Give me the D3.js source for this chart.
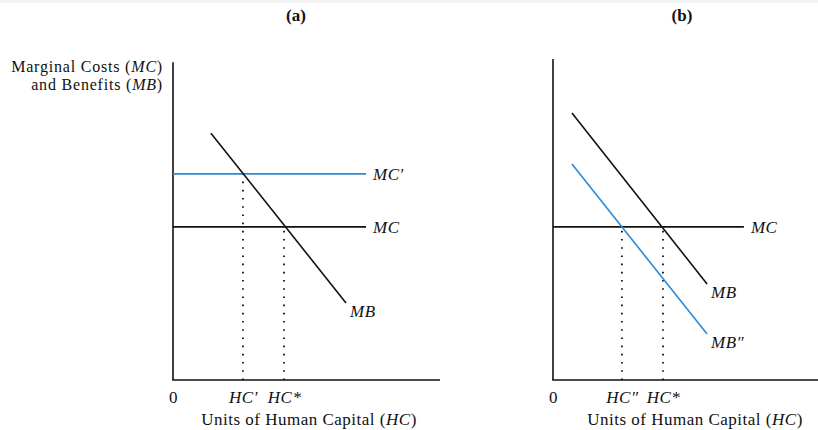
<!DOCTYPE html>
<html>
<head>
<meta charset="utf-8">
<script src="https://cdn.jsdelivr.net/npm/d3@7/dist/d3.min.js"></script>
<style>
  html, body { margin: 0; padding: 0; background: #fff; }
  svg { display: block; }
  text { font-family: "Liberation Serif", "DejaVu Serif", serif; fill: #111; }
</style>
</head>
<body>
<svg id="chart" width="818" height="430"></svg>
<script>
// ---------------- data ----------------
const panelTitles = ["(a)", "(b)"];
const yAxisTitle = ["Marginal Costs (", "MC", ")", "and Benefits (", "MB", ")"];
const xAxisTitle = ["Units of Human Capital (", "HC", ")"];

// panel (a)
const xTickValuesA = [0, 26.2, 41.6];
const xTickLabelsA = ["0", "HC′", "HC*"];
const lineNamesA = ["MC′", "MC", "MB"];
const lineXA = [[0, 72.3], [0, 72.3], [14.2, 64.8]];
const lineYA = [[64.2, 64.2], [47.7, 47.7], [76.9, 24.0]];
const dropXA = [26.2, 41.6];
const dropYA = [64.2, 47.7];
const yAxisTopA = 99;

// panel (b)
const xTickValuesB = [0, 25.8, 41.2];
const xTickLabelsB = ["0", "HC″", "HC*"];
const lineNamesB = ["MC", "MB", "MB″"];
const lineXB = [[0, 71.5], [7.1, 57.7], [7.1, 57.7]];
const lineYB = [[47.7, 47.7], [83.2, 29.9], [67.3, 14.3]];
const dropXB = [25.8, 41.2];
const dropYB = [47.7, 47.7];
const yAxisTopB = 100;

// ---------------- styles / layout ----------------
const BLUE = "#2a8ad8";
const BLACK = "#111";
const colorsA = [BLUE, BLACK, BLACK];
const colorsB = [BLACK, BLACK, BLUE];
const FS = "17px";
const LS = "0.5px";

const svg = d3.select("#chart");
svg.append("rect").attr("x", 0).attr("y", 0).attr("width", 818).attr("height", 3).attr("fill", "#f4f4f4");

const y = d3.scaleLinear().domain([0, 100]).range([380, 59]);

function drawPanel(opt) {
  const x = d3.scaleLinear().domain([0, 100]).range([opt.x0, opt.x0 + 267]);
  const g = svg.append("g");

  // title
  g.append("text")
    .attr("x", opt.titleX).attr("y", 21)
    .attr("text-anchor", "middle")
    .style("font-weight", "bold").style("font-size", "17px")
    .text(opt.title);

  // y axis line
  g.append("line")
    .attr("x1", x(0)).attr("x2", x(0))
    .attr("y1", y(0)).attr("y2", y(opt.yTop))
    .attr("stroke", BLACK).attr("stroke-width", 1.6);

  // x axis
  const xAxis = d3.axisBottom(x)
    .tickValues(opt.tickValues)
    .tickFormat((d, i) => opt.tickLabels[i])
    .tickSize(0).tickPadding(11);
  const ax = g.append("g").attr("transform", `translate(0,${y(0)})`).call(xAxis);
  ax.select(".domain").attr("stroke", BLACK).attr("stroke-width", 1.6).attr("d", `M${x(0) - 0.8},0H${x(opt.xEnd)}`);
  ax.selectAll(".tick text")
    .style("font-family", '"Liberation Serif", serif')
    .style("font-size", FS).style("letter-spacing", LS).attr("fill", "#111")
    .style("font-style", (d, i) => i === 0 ? "normal" : "italic");

  // drop lines (dotted)
  g.selectAll("line.drop").data(opt.dropX).join("line")
    .attr("class", "drop")
    .attr("x1", d => x(d)).attr("x2", d => x(d))
    .attr("y1", y(0)).attr("y2", (d, i) => y(opt.dropY[i]))
    .attr("stroke", BLACK).attr("stroke-width", 1.8)
    .attr("stroke-dasharray", "1.6,6.6").attr("stroke-linecap", "butt");

  // curves
  const line = d3.line().x(d => x(d[0])).y(d => y(d[1]));
  opt.names.forEach((name, i) => {
    const pts = opt.lx[i].map((vx, j) => [vx, opt.ly[i][j]]);
    g.append("path").attr("d", line(pts))
      .attr("fill", "none").attr("stroke", opt.colors[i]).attr("stroke-width", 1.6);
    const horizontal = opt.ly[i][0] === opt.ly[i][1];
    const end = pts[1];
    g.append("text")
      .attr("x", x(end[0]) + (horizontal ? 7 : 4))
      .attr("y", y(end[1]) + (horizontal ? 6 : 14))
      .style("font-style", "italic").style("font-size", FS).style("letter-spacing", LS)
      .text(name);
  });

  // x axis title
  const t = g.append("text")
    .attr("x", opt.titleX + 13).attr("y", 425)
    .attr("text-anchor", "middle").style("font-size", FS).style("letter-spacing", LS);
  xAxisTitle.forEach((s, i) => t.append("tspan").style("font-style", i === 1 ? "italic" : "normal").text(s));
}

drawPanel({
  x0: 173, xEnd: 100, yTop: yAxisTopA, title: panelTitles[0], titleX: 296,
  tickValues: xTickValuesA, tickLabels: xTickLabelsA,
  names: lineNamesA, lx: lineXA, ly: lineYA, colors: colorsA,
  dropX: dropXA, dropY: dropYA
});
drawPanel({
  x0: 553, xEnd: 100, yTop: yAxisTopB, title: panelTitles[1], titleX: 682,
  tickValues: xTickValuesB, tickLabels: xTickLabelsB,
  names: lineNamesB, lx: lineXB, ly: lineYB, colors: colorsB,
  dropX: dropXB, dropY: dropYB
});

// y axis title (panel a)
const yt = svg.append("g");
[[0, 3], [3, 6]].forEach((r, li) => {
  const t = yt.append("text").attr("x", 163).attr("y", 72 + li * 18)
    .attr("text-anchor", "end").style("font-size", "16px").style("letter-spacing", "0.8px");
  yAxisTitle.slice(r[0], r[1]).forEach((s, i) =>
    t.append("tspan").style("font-style", i === 1 ? "italic" : "normal").text(s));
});
</script>
</body>
</html>
